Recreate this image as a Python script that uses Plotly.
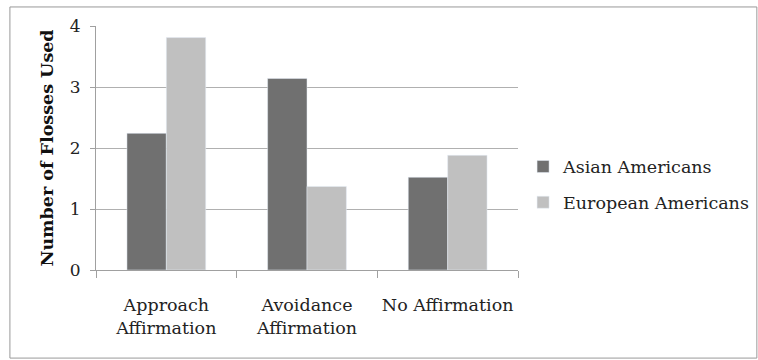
import plotly.graph_objects as go

categories = ["Approach<br>Affirmation", "Avoidance<br>Affirmation", "No Affirmation"]
asian = [2.24, 3.14, 1.52]
european = [3.81, 1.37, 1.88]
series_names = ["Asian Americans", "European Americans"]
y_ticks = [0, 1, 2, 3, 4]

FONT = "DejaVu Serif"

fig = go.Figure()
fig.add_trace(go.Bar(x=categories, y=asian, name=series_names[0], marker_color="#707070", legendgroup="a"))
fig.add_trace(go.Bar(x=categories, y=european, name=series_names[1], marker_color="#c0c0c0", legendgroup="b"))

fig.update_layout(
    width=758, height=360,
    margin=dict(l=96, r=240, t=26, b=90, autoexpand=False),
    paper_bgcolor="white", plot_bgcolor="white",
    barmode="group", bargap=0.44, bargroupgap=0,
    font=dict(family=FONT, size=17, color="#222"),
    legend=dict(x=1.012, xanchor="left", y=0.35, yanchor="middle",
                font=dict(family=FONT, size=17.5, color="#222"),
                bgcolor="rgba(0,0,0,0)",
                itemwidth=30, tracegroupgap=10),
    showlegend=True,
)
fig.update_xaxes(
    automargin=False, tickangle=0,
    showline=True, linecolor="#a0a0a0", linewidth=1,
    ticks="outside", tickson="boundaries", ticklen=7, tickcolor="#a0a0a0",
    tickfont=dict(family=FONT, size=17.5, color="#222"),
    ticklabelstandoff=19,
)
fig.update_yaxes(
    automargin=False,
    range=[0, 4], tickvals=y_ticks, showgrid=True, gridcolor="#b0b0b0", gridwidth=1,
    showline=True, linecolor="#a0a0a0", linewidth=1,
    ticks="outside", ticklen=5, tickcolor="#a0a0a0",
    tickfont=dict(family=FONT, size=17, color="#222"),
    ticklabelstandoff=6,
    zeroline=False,
    title=dict(text="<b>Number of Flosses Used</b>", font=dict(family=FONT, size=17.5, color="#111"), standoff=11),
)
fig.add_shape(type="rect", xref="paper", yref="paper",
              x0=-0.204, x1=1.566, y0=-0.361, y1=1.078,
              line=dict(color="#999", width=1), fillcolor="rgba(0,0,0,0)", layer="below")

fig.write_html("out.html", config={"displayModeBar": False},
               post_script="document.body.style.margin='0px';")
